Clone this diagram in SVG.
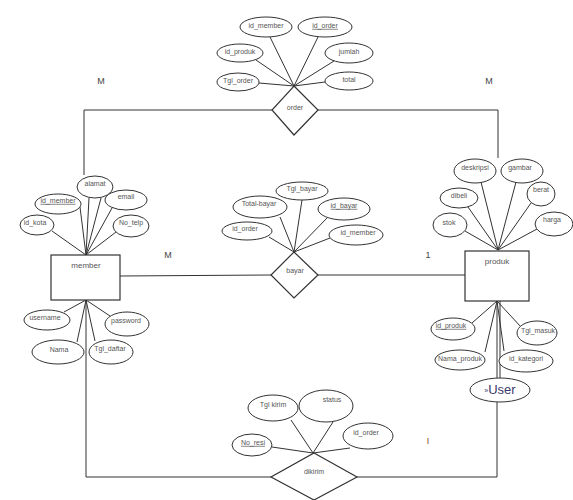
<svg xmlns="http://www.w3.org/2000/svg" width="573" height="500" viewBox="0 0 573 500">
<style>
.e{fill:#fff;stroke:#333;stroke-width:1}
.r{fill:#fff;stroke:#333;stroke-width:1.2}
.l{stroke:#333;stroke-width:1;fill:none}
.t{font-family:"Liberation Sans",Arial,sans-serif;font-size:7px;fill:#555;text-anchor:middle;dominant-baseline:middle}
.n{font-family:"Liberation Sans",Arial,sans-serif;font-size:8px;fill:#555;text-anchor:middle;dominant-baseline:middle}
.c{font-family:"Liberation Sans",Arial,sans-serif;font-size:9px;fill:#444;text-anchor:middle;dominant-baseline:middle}
.u{text-decoration:underline}
</style>
<rect width="573" height="500" fill="#fff"/>
<g id="connectors">
<polyline class="l" points="84,175 84,110 272,110"/>
<polyline class="l" points="318,110 498,110 498,158"/>
<polyline class="l" points="120,276 271,275"/>
<polyline class="l" points="318,275 465,275"/>
<polyline class="l" points="86,300 86,477 271,477"/>
<polyline class="l" points="357,477 497,477 497,402"/>
<line class="l" x1="497" y1="301" x2="497" y2="378"/>
<line class="l" x1="500" y1="301" x2="500" y2="378"/>
<!-- order attrs -->
<line class="l" x1="294" y1="86" x2="270" y2="37"/>
<line class="l" x1="294" y1="86" x2="318" y2="37"/>
<line class="l" x1="294" y1="86" x2="256" y2="60"/>
<line class="l" x1="294" y1="86" x2="334" y2="61"/>
<line class="l" x1="294" y1="86" x2="259" y2="83"/>
<line class="l" x1="294" y1="86" x2="325" y2="82"/>
<!-- bayar attrs -->
<line class="l" x1="294" y1="252" x2="302" y2="200"/>
<line class="l" x1="294" y1="252" x2="280" y2="217"/>
<line class="l" x1="294" y1="252" x2="327" y2="218"/>
<line class="l" x1="294" y1="252" x2="269" y2="237"/>
<line class="l" x1="294" y1="252" x2="330" y2="238"/>
<!-- member top attrs -->
<line class="l" x1="86" y1="255" x2="89" y2="198"/>
<line class="l" x1="86" y1="255" x2="101" y2="198"/>
<line class="l" x1="86" y1="255" x2="80" y2="207"/>
<line class="l" x1="86" y1="255" x2="112" y2="208"/>
<line class="l" x1="86" y1="255" x2="52" y2="231"/>
<line class="l" x1="86" y1="255" x2="116" y2="232"/>
<!-- member bottom attrs -->
<line class="l" x1="86" y1="300" x2="64" y2="312"/>
<line class="l" x1="86" y1="300" x2="110" y2="316"/>
<line class="l" x1="86" y1="300" x2="77" y2="342"/>
<line class="l" x1="86" y1="300" x2="95" y2="341"/>
<!-- produk top attrs -->
<line class="l" x1="498" y1="250" x2="481" y2="182"/>
<line class="l" x1="498" y1="250" x2="516" y2="182"/>
<line class="l" x1="498" y1="250" x2="468" y2="207"/>
<line class="l" x1="498" y1="250" x2="531" y2="203"/>
<line class="l" x1="498" y1="250" x2="465" y2="231"/>
<line class="l" x1="498" y1="250" x2="537" y2="229"/>
<!-- produk bottom attrs -->
<line class="l" x1="497" y1="301" x2="472" y2="323"/>
<line class="l" x1="497" y1="301" x2="521" y2="327"/>
<line class="l" x1="497" y1="301" x2="485" y2="352"/>
<line class="l" x1="497" y1="301" x2="504" y2="351"/>
<!-- dikirim attrs -->
<line class="l" x1="313" y1="453" x2="291" y2="420"/>
<line class="l" x1="313" y1="453" x2="333" y2="422"/>
<line class="l" x1="313" y1="453" x2="272" y2="447"/>
<line class="l" x1="313" y1="453" x2="350" y2="448"/>
</g>
<g id="labels">
<text class="c" x="101" y="82">M</text>
<text class="c" x="489" y="82">M</text>
<text class="c" x="168" y="256">M</text>
<text class="c" x="428" y="256">1</text>
<text class="c" x="428" y="442" style="fill:#8a4a1a">I</text>
</g>
<g id="member">
<rect class="r" x="51" y="255" width="69" height="45"/>
<text class="n" x="86" y="266">member</text>
</g>
<g id="produk">
<rect class="r" x="465" y="251" width="64" height="50"/>
<text class="n" x="497" y="262">produk</text>
</g>
<g id="order">
<polygon class="r" points="294,86 318,110 294,135 272,110"/>
<text class="t" x="295" y="108">order</text>
</g>
<g id="bayar">
<polygon class="r" points="294,252 318,275 294,298 271,275"/>
<text class="t" x="295" y="271">bayar</text>
</g>
<g id="dikirim">
<polygon class="r" points="314,453 357,477 314,500 271,477"/>
<text class="t" x="314" y="472">dikirim</text>
</g>
<g id="order-attrs">
<g id="a-order-id_member"><ellipse class="e" cx="266" cy="27" rx="26" ry="10"/><text class="t" x="266" y="26">id_member</text></g>
<g id="a-order-id_order"><ellipse class="e" cx="325" cy="27" rx="27" ry="10"/><text class="t u" x="325" y="26">id_order</text></g>
<g id="a-order-id_produk"><ellipse class="e" cx="240" cy="53" rx="23" ry="9"/><text class="t" x="240" y="52">id_produk</text></g>
<g id="a-order-jumlah"><ellipse class="e" cx="349" cy="53" rx="24" ry="10"/><text class="t" x="349" y="52">jumlah</text></g>
<g id="a-order-tgl"><ellipse class="e" cx="238" cy="82" rx="21" ry="9"/><text class="t" x="238" y="81">Tgl_order</text></g>
<g id="a-order-total"><ellipse class="e" cx="349" cy="81" rx="24" ry="9"/><text class="t" x="349" y="80">total</text></g>
</g>
<g id="bayar-attrs">
<g id="a-bayar-tgl"><ellipse class="e" cx="302" cy="191" rx="26" ry="9"/><text class="t" x="302" y="189">Tgl_bayar</text></g>
<g id="a-bayar-total"><ellipse class="e" cx="260" cy="207" rx="27" ry="11"/><text class="t" x="259" y="204">Total-bayar</text></g>
<g id="a-bayar-id"><ellipse class="e" cx="344" cy="209" rx="26" ry="11"/><text class="t u" x="344" y="206">id_bayar</text></g>
<g id="a-bayar-id_order"><ellipse class="e" cx="247" cy="231" rx="25" ry="9"/><text class="t" x="245" y="229">id_order</text></g>
<g id="a-bayar-id_member"><ellipse class="e" cx="356" cy="235" rx="27" ry="10"/><text class="t" x="358" y="233">id_member</text></g>
</g>
<g id="member-attrs">
<g id="a-member-alamat"><ellipse class="e" cx="95" cy="187" rx="18" ry="11"/><text class="t" x="95" y="184">alamat</text></g>
<g id="a-member-id"><ellipse class="e" cx="58" cy="204" rx="23" ry="10"/><text class="t u" x="58" y="201">id_member</text></g>
<g id="a-member-email"><ellipse class="e" cx="126" cy="200" rx="21" ry="10"/><text class="t" x="126" y="197">email</text></g>
<g id="a-member-kota"><ellipse class="e" cx="37" cy="225" rx="17" ry="10"/><text class="t" x="35" y="223">id_kota</text></g>
<g id="a-member-telp"><ellipse class="e" cx="131" cy="226" rx="18" ry="11"/><text class="t" x="131" y="223">No_telp</text></g>
<g id="a-member-username"><ellipse class="e" cx="47" cy="320" rx="23" ry="10"/><text class="t" x="45" y="318">username</text></g>
<g id="a-member-password"><ellipse class="e" cx="127" cy="324" rx="22" ry="12"/><text class="t" x="126" y="321">password</text></g>
<g id="a-member-nama"><ellipse class="e" cx="58" cy="352" rx="26" ry="12"/><text class="t" x="59" y="350">Nama</text></g>
<g id="a-member-tgl"><ellipse class="e" cx="111" cy="352" rx="22" ry="12"/><text class="t" x="110" y="349">Tgl_daftar</text></g>
</g>
<g id="produk-attrs">
<g id="a-produk-deskripsi"><ellipse class="e" cx="475" cy="171" rx="21" ry="12"/><text class="t" x="475" y="168">deskripsi</text></g>
<g id="a-produk-gambar"><ellipse class="e" cx="522" cy="171" rx="21" ry="12"/><text class="t" x="520" y="168">gambar</text></g>
<g id="a-produk-dibeli"><ellipse class="e" cx="459" cy="198" rx="19" ry="10"/><text class="t" x="459" y="196">dibeli</text></g>
<g id="a-produk-berat"><ellipse class="e" cx="541" cy="194" rx="14" ry="12"/><text class="t" x="541" y="190">berat</text></g>
<g id="a-produk-stok"><ellipse class="e" cx="450" cy="225" rx="17" ry="12"/><text class="t" x="449" y="223">stok</text></g>
<g id="a-produk-harga"><ellipse class="e" cx="554" cy="224" rx="19" ry="12"/><text class="t" x="552" y="220">harga</text></g>
<g id="a-produk-id"><ellipse class="e" cx="453" cy="329" rx="22" ry="11"/><text class="t u" x="451" y="326">id_produk</text></g>
<g id="a-produk-tgl"><ellipse class="e" cx="537" cy="333" rx="20" ry="12"/><text class="t" x="538" y="331">Tgl_masuk</text></g>
<g id="a-produk-nama"><ellipse class="e" cx="460" cy="360" rx="25" ry="10"/><text class="t" x="460" y="359">Nama_produk</text></g>
<g id="a-produk-kategori"><ellipse class="e" cx="526" cy="361" rx="27" ry="11"/><text class="t" x="526" y="359">id_kategori</text></g>
<g id="a-produk-user"><ellipse class="e" cx="500" cy="390" rx="30" ry="12"/><text x="500" y="391" style="font-family:'Liberation Sans',Arial,sans-serif;font-size:13px;fill:#3a3a6a;text-anchor:middle;dominant-baseline:middle"><tspan style="font-size:7px">»</tspan>User</text></g>
</g>
<g id="dikirim-attrs">
<g id="a-dikirim-tgl"><ellipse class="e" cx="273" cy="408" rx="25" ry="13"/><text class="t" x="273" y="405">Tgl kirim</text></g>
<g id="a-dikirim-status"><ellipse class="e" cx="326" cy="406" rx="27" ry="16"/><text class="t" x="332" y="400">status</text></g>
<g id="a-dikirim-resi"><ellipse class="e" cx="252" cy="445" rx="20" ry="11"/><text class="t u" x="253" y="443">No_resi</text></g>
<g id="a-dikirim-order"><ellipse class="e" cx="368" cy="436" rx="25" ry="13"/><text class="t" x="366" y="433">id_order</text></g>
</g>
</svg>
